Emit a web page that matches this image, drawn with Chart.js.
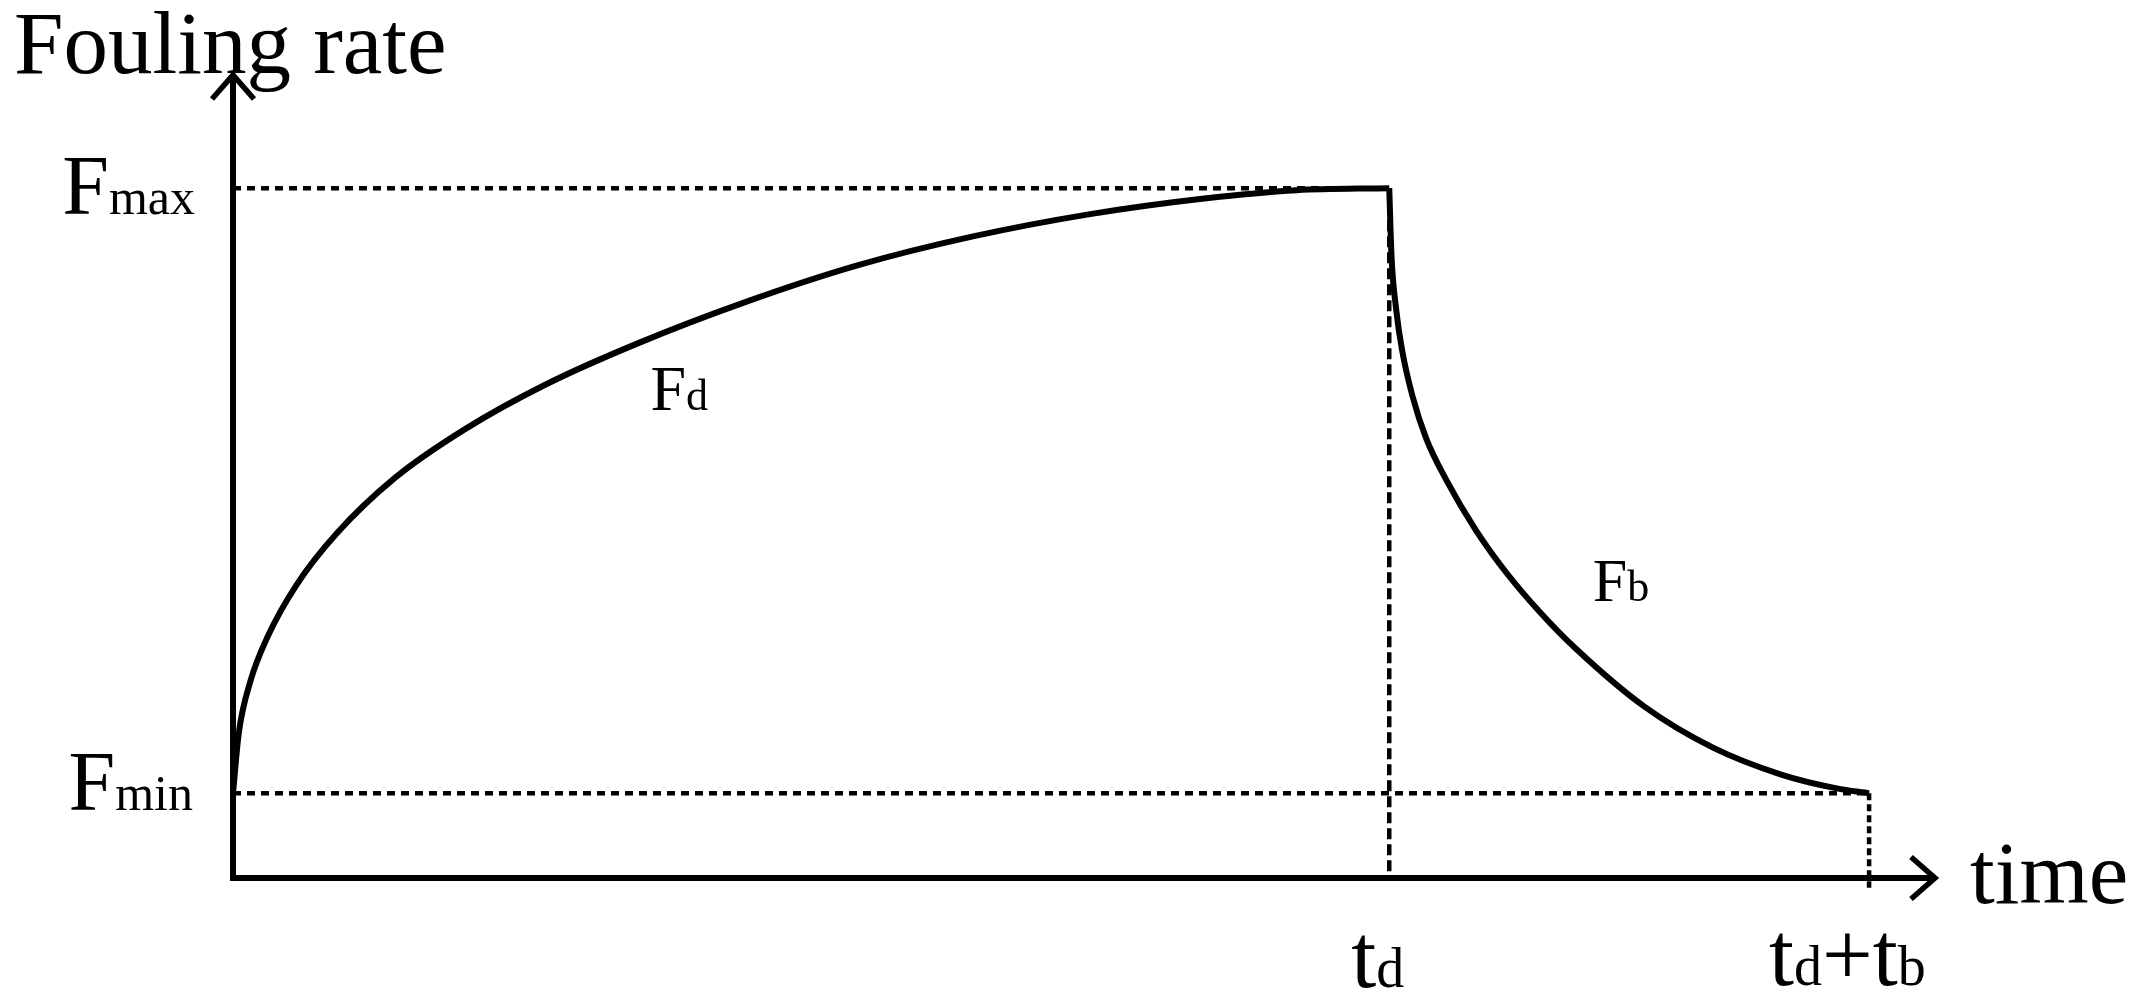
<!DOCTYPE html>
<html>
<head>
<meta charset="utf-8">
<script src="https://cdn.jsdelivr.net/npm/chart.js@4/dist/chart.umd.min.js"></script>
<style>
html,body{margin:0;padding:0;background:#fff;overflow:hidden;}
#wrap{width:2148px;height:1006px;position:relative;}
canvas{display:block;}
</style>
</head>
<body>
<div id="wrap"><canvas id="c" width="2148" height="1006"></canvas></div>
<script>
// ---- Data (arbitrary units) ----
const F_MIN = 1.23;      // Fmin level
const F_MAX = 10;        // Fmax level
const T_D = 10;          // t_d
const T_DB = 14.15;      // t_d + t_b

// Deposition phase curve F_d
const fdTime = [0, 0.05, 0.15, 0.3, 0.55, 0.9, 1.4, 2.0, 2.7, 3.5, 4.4, 5.4, 6.4, 7.4, 8.4, 9.2, 10];
const fdRate = [1.23, 2.10, 2.85, 3.50, 4.25, 5.00, 5.80, 6.50, 7.15, 7.75, 8.33, 8.88, 9.30, 9.62, 9.85, 9.97, 10];

// Break-off phase curve F_b
const fbTime = [10, 10.02, 10.06, 10.11, 10.2, 10.32, 10.5, 10.75, 11.02, 11.3, 11.61, 12.21, 12.8, 13.39, 13.87, 14.15];
const fbRate = [10, 9.00, 8.24, 7.66, 6.99, 6.37, 5.75, 5.04, 4.41, 3.86, 3.33, 2.48, 1.89, 1.50, 1.30, 1.23];

// Axis / tick labels
const yAxisTitle = "Fouling rate";
const xAxisTitle = "time";
const yTickLabels = [["F","max"],["F","min"]];
const xTickLabels = [[["t",1],["d",0]], [["t",1],["d",0],["+",1],["t",1],["b",0]]];
const curveLabels = [["F","d"],["F","b"]];

const X_MAX = 14.72, Y_MAX = 11.64;

const pts = (xs, ys) => xs.map((x, i) => ({x, y: ys[i]}));

const FONT = '"Liberation Serif","Times New Roman",serif';

const overlay = {
  id: 'overlay',
  afterDatasetsDraw(chart) {
    const ctx = chart.ctx;
    const xs = chart.scales.x, ys = chart.scales.y;
    const x0 = xs.getPixelForValue(0), y0 = ys.getPixelForValue(0);
    const xEnd = xs.getPixelForValue(X_MAX), yEnd = ys.getPixelForValue(Y_MAX);
    ctx.save();
    ctx.strokeStyle = '#000';
    ctx.lineWidth = 6;
    ctx.lineCap = 'butt';
    ctx.lineJoin = 'miter';
    // axes
    ctx.beginPath();
    ctx.moveTo(x0, yEnd + 2);
    ctx.lineTo(x0, y0);
    ctx.lineTo(xEnd - 2, y0);
    ctx.stroke();
    // arrows
    ctx.lineWidth = 5.5;
    ctx.beginPath();
    ctx.moveTo(x0 - 21, yEnd + 24);
    ctx.lineTo(x0, yEnd);
    ctx.lineTo(x0 + 21, yEnd + 24);
    ctx.stroke();
    ctx.beginPath();
    ctx.moveTo(xEnd - 24, y0 - 21);
    ctx.lineTo(xEnd, y0);
    ctx.lineTo(xEnd - 24, y0 + 21);
    ctx.stroke();

    ctx.fillStyle = '#000';
    ctx.textBaseline = 'alphabetic';
    ctx.textAlign = 'left';
    // axis titles
    ctx.font = '89px ' + FONT;
    ctx.fillText(yAxisTitle, 14, yEnd - 2);
    ctx.fillText(xAxisTitle, xEnd + 35, y0 + 25);

    function drawParts(parts, x, y, big, small, align) {
      let w = 0;
      parts.forEach(([t, b]) => { ctx.font = (b ? big : small) + 'px ' + FONT; w += ctx.measureText(t).width; });
      let cx = align === 'right' ? x - w : x;
      parts.forEach(([t, b]) => {
        ctx.font = (b ? big : small) + 'px ' + FONT;
        ctx.fillText(t, cx, y);
        cx += ctx.measureText(t).width;
      });
    }
    // y tick labels
    drawParts([[yTickLabels[0][0],1],[yTickLabels[0][1],0]], x0 - 38, ys.getPixelForValue(F_MAX) + 26, 84, 50, 'right');
    drawParts([[yTickLabels[1][0],1],[yTickLabels[1][1],0]], x0 - 40, ys.getPixelForValue(F_MIN) + 17, 84, 50, 'right');
    // x tick labels
    drawParts(xTickLabels[0], xs.getPixelForValue(T_D) - 38, y0 + 109, 90, 56, 'left');
    drawParts(xTickLabels[1], xs.getPixelForValue(T_DB) - 100, y0 + 107, 90, 56, 'left');
    // curve labels
    drawParts([[curveLabels[0][0],1],[curveLabels[0][1],0]], xs.getPixelForValue(3.61), ys.getPixelForValue(6.78), 64, 44, 'left');
    drawParts([[curveLabels[1][0],1],[curveLabels[1][1],0]], xs.getPixelForValue(11.76), ys.getPixelForValue(4.02), 62, 44, 'left');
    ctx.restore();
  }
};

const guide = (data, dash) => ({
  data, borderColor: '#000', borderWidth: 4.5, pointRadius: 0,
  borderDash: dash, borderCapStyle: 'butt', clip: false, tension: 0, fill: false
});

new Chart(document.getElementById('c'), {
  type: 'line',
  data: {
    datasets: [
      { data: pts(fdTime, fdRate), borderColor: '#000', borderWidth: 6, pointRadius: 0,
        cubicInterpolationMode: 'monotone', clip: false, fill: false, borderJoinStyle: 'round' },
      { data: pts(fbTime, fbRate), borderColor: '#000', borderWidth: 6, pointRadius: 0,
        cubicInterpolationMode: 'monotone', clip: false, fill: false, borderJoinStyle: 'round' },
      guide([{x: 0, y: F_MAX}, {x: T_D, y: F_MAX}], [8, 6]),
      guide([{x: 0, y: F_MIN}, {x: T_DB, y: F_MIN}], [8, 6]),
      guide([{x: T_D, y: F_MAX}, {x: T_D, y: 0}], [11, 5]),
      guide([{x: T_DB, y: F_MIN}, {x: T_DB, y: -0.14}], [7, 4])
    ]
  },
  options: {
    responsive: false,
    animation: false,
    devicePixelRatio: 1,
    layout: { padding: { left: 233, right: 213, top: 75, bottom: 128 } },
    plugins: { legend: { display: false }, tooltip: { enabled: false } },
    scales: {
      x: { type: 'linear', min: 0, max: X_MAX, display: false },
      y: { type: 'linear', min: 0, max: Y_MAX, display: false }
    },
    events: []
  },
  plugins: [overlay]
});
</script>
</body>
</html>
